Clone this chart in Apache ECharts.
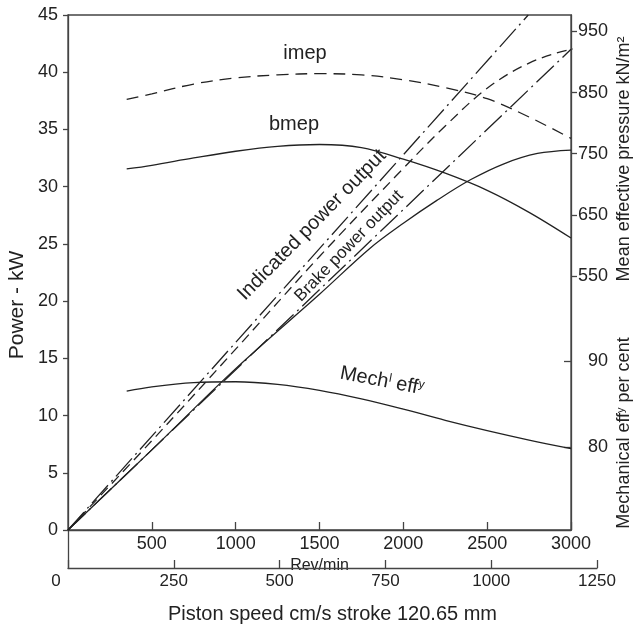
<!DOCTYPE html>
<html><head><meta charset="utf-8">
<script src="https://cdn.jsdelivr.net/npm/echarts/dist/echarts.min.js"></script>
<style>html,body{margin:0;padding:0;background:#fff}#c{width:634px;height:625px}</style>
</head><body><div id="c"></div>
<script>
// ---- data ----
const rpm = [350, 500, 750, 1000, 1250, 1500, 1750, 2000, 2250, 2500, 2750, 3000];
const imep = [839, 848, 864, 874, 879, 881, 879, 871, 858, 840, 810, 775];
const bmep = [725, 731, 743, 754, 762, 765, 760, 741, 718, 690, 654, 612];
const mechEff = [86.5, 87.0, 87.5, 87.6, 87.3, 86.6, 85.6, 84.4, 83.1, 81.9, 80.8, 79.8];

const indRpm = [0, 500, 1000, 1500, 2000, 2250, 2500, 2750, 3000, 3170];
const indPower = [0, 7.8, 15.8, 23.9, 31.6, 35.3, 38.6, 40.8, 42.0, 42.3];

const brkRpm = [0, 500, 1000, 1500, 1800, 2000, 2200, 2400, 2600, 2800, 3000];
const brkPower = [0, 7.0, 14.1, 20.6, 24.6, 26.8, 28.8, 30.6, 32.0, 32.9, 33.2];

const indLineRpm = [0, 2745];
const indLinePower = [0, 45];
const brkLineRpm = [0, 3000];
const brkLinePower = [0, 42];

const pressureTicks = [550, 650, 750, 850, 950];
const effTicks = [80, 90];

// ---- build ----
const zip = (a, b) => a.map((v, i) => [v, b[i]]);
const FONT = '"Liberation Sans", Arial, Helvetica, sans-serif';
const INK = '#222';
const axisLineStyle = { color: '#444', width: 1.3 };

const chart = echarts.init(document.getElementById('c'), null, { renderer: 'canvas' });
const lineBase = (name, data, y, style) => ({
  name, type: 'line', data, yAxisIndex: y, xAxisIndex: 0, showSymbol: false, symbol: 'none',
  smooth: 0.35, lineStyle: Object.assign({ color: INK, width: 1.3 }, style), animation: false, z: 3
});

chart.setOption({
  animation: false,
  textStyle: { fontFamily: FONT, color: INK },
  grid: [
    { left: 68, top: 15, width: 503, height: 515, show: true, borderColor: '#444', borderWidth: 1.3, backgroundColor: 'transparent' },
    { left: 68, top: 530, width: 529, height: 42, show: false }
  ],
  xAxis: [
    { type: 'value', gridIndex: 0, min: 0, max: 3000, interval: 500, position: 'bottom',
      axisLine: { show: true, lineStyle: axisLineStyle },
      axisTick: { show: true, inside: true, length: 8, lineStyle: axisLineStyle },
      axisLabel: { showMinLabel: false, fontSize: 18, color: INK, margin: 5, fontFamily: FONT, formatter: v => String(v) },
      splitLine: { show: false },
      name: 'Rev/min', nameLocation: 'middle', nameGap: 23,
      nameTextStyle: { fontSize: 16, color: INK, fontFamily: FONT } },
    { type: 'value', gridIndex: 1, min: 0, max: 1250, interval: 250, position: 'bottom',
      axisLine: { show: true, lineStyle: axisLineStyle },
      axisTick: { show: true, inside: true, length: 8, lineStyle: axisLineStyle },
      axisLabel: { fontSize: 17, color: INK, margin: 5, fontFamily: FONT,
        formatter: v => v === 0 ? '{z|0}' : String(v),
        rich: { z: { fontSize: 17, color: INK, fontFamily: FONT, padding: [0, 24, 0, 0] } } },
      splitLine: { show: false },
      name: 'Piston speed cm/s stroke 120.65 mm', nameLocation: 'middle', nameGap: 36,
      nameTextStyle: { fontSize: 20, color: INK, fontFamily: FONT } }
  ],
  yAxis: [
    { type: 'value', gridIndex: 0, min: 0, max: 45, interval: 5, position: 'left',
      axisLine: { show: true, lineStyle: axisLineStyle },
      axisTick: { show: true, inside: false, length: 5, lineStyle: axisLineStyle },
      axisLabel: { fontSize: 18, color: INK, margin: 10, fontFamily: FONT },
      splitLine: { show: false } },
    { type: 'value', gridIndex: 0, min: 134, max: 977, position: 'right',
      axisLine: { show: true, lineStyle: axisLineStyle },
      axisTick: { show: true, inside: false, length: 6, lineStyle: axisLineStyle, customValues: pressureTicks },
      axisLabel: { fontSize: 18, color: INK, margin: 7, fontFamily: FONT, customValues: pressureTicks },
      splitLine: { show: false } },
    { type: 'value', gridIndex: 0, min: 70.3, max: 130.4, position: 'right',
      axisLine: { show: false },
      axisTick: { show: true, inside: true, length: 7, lineStyle: axisLineStyle, customValues: effTicks },
      axisLabel: { fontSize: 18, color: INK, margin: 17, fontFamily: FONT, customValues: effTicks },
      splitLine: { show: false } },
    { type: 'value', gridIndex: 1, min: 0, max: 1, position: 'left',
      axisLine: { show: true, lineStyle: axisLineStyle },
      axisTick: { show: false }, axisLabel: { show: false }, splitLine: { show: false } }
  ],
  series: [
    lineBase('imep', zip(rpm, imep), 1, { type: [12, 7] }),
    lineBase('bmep', zip(rpm, bmep), 1, { type: 'solid' }),
    lineBase('Mech eff', zip(rpm, mechEff), 2, { type: 'solid' }),
    Object.assign(lineBase('Indicated power output', zip(indRpm, indPower), 0, { type: [10, 6] }), { clip: false }),
    lineBase('Brake power output', zip(brkRpm, brkPower), 0, { type: 'solid' }),
    Object.assign(lineBase('Indicated line', zip(indLineRpm, indLinePower), 0, { type: [24, 5, 2, 5] }), { smooth: false }),
    Object.assign(lineBase('Brake line', zip(brkLineRpm, brkLinePower), 0, { type: [24, 5, 2, 5] }), { smooth: false })
  ],
  graphic: [
    { type: 'text', x: 17, y: 305, rotation: Math.PI / 2,
      style: { text: 'Power - kW', font: '21px ' + FONT, fill: INK, align: 'center', verticalAlign: 'middle', textAlign: 'center', textVerticalAlign: 'middle' } },
    { type: 'text', x: 624, y: 159, rotation: Math.PI / 2,
      style: { text: 'Mean effective pressure kN/m²', font: '18px ' + FONT, fill: INK, align: 'center', verticalAlign: 'middle', textAlign: 'center', textVerticalAlign: 'middle' } },
    { type: 'text', x: 624, y: 433, rotation: Math.PI / 2,
      style: { text: '{a|Mechanical eff}{s|y}{a| per cent}', fill: INK, align: 'center', verticalAlign: 'middle', textAlign: 'center', textVerticalAlign: 'middle',
        rich: { a: { fontSize: 18, fontFamily: FONT, fill: INK, color: INK }, s: { fontSize: 11, fontFamily: FONT, color: INK, verticalAlign: 'top' } } } },
    { type: 'text', x: 305, y: 53,
      style: { text: 'imep', font: '20px ' + FONT, fill: INK, align: 'center', verticalAlign: 'middle', textAlign: 'center', textVerticalAlign: 'middle' } },
    { type: 'text', x: 294, y: 124,
      style: { text: 'bmep', font: '20px ' + FONT, fill: INK, align: 'center', verticalAlign: 'middle', textAlign: 'center', textVerticalAlign: 'middle' } },
    { type: 'text', x: 312, y: 225, rotation: 0.795,
      style: { text: 'Indicated power output', font: '20px ' + FONT, fill: INK, align: 'center', verticalAlign: 'middle', textAlign: 'center', textVerticalAlign: 'middle' } },
    { type: 'text', x: 349, y: 246, rotation: 0.80,
      style: { text: 'Brake power output', font: '17px ' + FONT, fill: INK, align: 'center', verticalAlign: 'middle', textAlign: 'center', textVerticalAlign: 'middle' } },
    { type: 'text', x: 382, y: 381, rotation: -0.19,
      style: { text: '{a|Mech}{s|l}{a| eff}{s|y}', fill: INK, align: 'center', verticalAlign: 'middle', textAlign: 'center', textVerticalAlign: 'middle',
        rich: { a: { fontSize: 20, fontFamily: FONT, color: INK }, s: { fontSize: 12, fontFamily: FONT, color: INK, verticalAlign: 'top' } } } }
  ]
});
</script></body></html>
